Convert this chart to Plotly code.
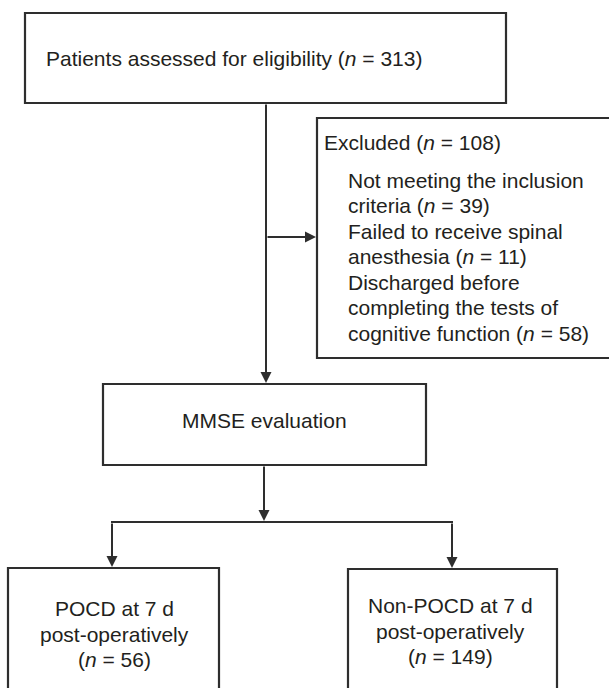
import plotly.graph_objects as go

# ---- data ----
stage_labels = ["Patients assessed for eligibility", "Excluded", "MMSE evaluation",
                "POCD at 7 d", "Non-POCD at 7 d"]
stage_counts = [313, 108, None, 56, 149]
exclusion_lines = [["Not meeting the inclusion", "criteria"],
                   ["Failed to receive spinal", "anesthesia"],
                   ["Discharged before", "completing the tests of", "cognitive function"]]
exclusion_counts = [39, 11, 58]
outcome_suffix = "post-operatively"

W, H = 609, 688
FONT = "Liberation Sans, Arial, sans-serif"
TXT = "#231f20"
LINE = "#2e2e2e"
FS = 21


def ntext(n):
    return f"(<i>n</i> = {n})"


fig = go.Figure()
fig.add_trace(go.Scatter(x=[0, W], y=[0, H], mode="markers", marker=dict(opacity=0),
                         hoverinfo="skip", showlegend=False))

shapes = []


def box(x0, y0, x1, y1):
    shapes.append(dict(type="rect", x0=x0, y0=y0, x1=x1, y1=y1, xref="x", yref="y",
                       line=dict(color=LINE, width=2.2), fillcolor="rgba(0,0,0,0)"))


def seg(x0, y0, x1, y1):
    shapes.append(dict(type="line", x0=x0, y0=y0, x1=x1, y1=y1, xref="x", yref="y",
                       line=dict(color=LINE, width=2)))


box(25, 13, 506, 103)
box(317, 118, 615, 358)
box(103, 384, 426, 465)
box(8, 568, 219, 720)
box(348, 569, 557, 720)
seg(111, 522, 453, 522)

annotations = []


def arrow(x0, y0, x1, y1):
    annotations.append(dict(x=x1, y=y1, ax=x0, ay=y0, xref="x", yref="y", axref="x", ayref="y",
                            text="", showarrow=True, arrowhead=2, arrowsize=1.1,
                            arrowwidth=2, arrowcolor=LINE, standoff=0, startstandoff=0))


def text(x, y, s, anchor="left"):
    annotations.append(dict(x=x, y=y, xref="x", yref="y", text=s, showarrow=False,
                            xanchor=anchor, yanchor="middle", align=anchor,
                            font=dict(family=FONT, size=FS, color=TXT)))


arrow(266, 103, 266, 383)
arrow(266, 237, 316, 237)
arrow(264, 465, 264, 521)
arrow(112, 522, 112, 567)
arrow(452, 522, 452, 568)

text(44, 58, f"{stage_labels[0]} {ntext(stage_counts[0])}")
text(322, 142, f"{stage_labels[1]} {ntext(stage_counts[1])}")

y = 180
lh = 25.5
for lines, n in zip(exclusion_lines, exclusion_counts):
    for i, ln in enumerate(lines):
        s = ln + (f" {ntext(n)}" if i == len(lines) - 1 else "")
        text(346, y, s)
        y += lh

text(264, 420, stage_labels[2], "center")

for cx, y0, lab, n in [(114, 608, stage_labels[3], stage_counts[3]),
                       (450, 605, stage_labels[4], stage_counts[4])]:
    text(cx, y0, lab, "center")
    text(cx, y0 + 26, outcome_suffix, "center")
    text(cx, y0 + 51, ntext(n), "center")

fig.update_layout(
    width=W, height=H, margin=dict(l=0, r=0, t=0, b=0),
    paper_bgcolor="white", plot_bgcolor="white",
    xaxis=dict(range=[0, W], visible=False, fixedrange=True),
    yaxis=dict(range=[H, 0], visible=False, fixedrange=True),
    shapes=shapes, annotations=annotations, showlegend=False,
)
fig.write_html("out.html", config={"displayModeBar": False},
               post_script="document.body.style.margin='0px';")
